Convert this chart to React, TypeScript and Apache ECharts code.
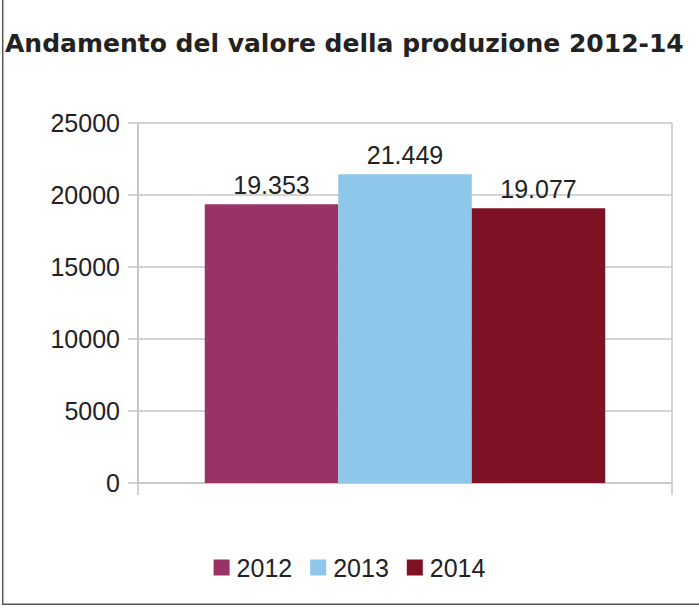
import React, { useEffect, useRef } from "react";
import * as echarts from "echarts";

const titleText = "Andamento del valore della produzione 2012-14";
const seriesNames = ["2012", "2013", "2014"];
const seriesValues = [19353, 21449, 19077];
const seriesColors = ["#993366", "#8FC7EA", "#7E1124"];
const yMin = 0;
const yMax = 25000;
const yInterval = 5000;

function formatIt(v: number): string {
  const s = String(Math.round(v));
  return s.replace(/\B(?=(\d{3})+(?!\d))/g, ".");
}

export default function App() {
  const ref = useRef<HTMLDivElement>(null);
  useEffect(() => {
    document.body.style.margin = "0";
    if (!ref.current) return;
    const chart = echarts.init(ref.current, null, { renderer: "svg" });
    const numFont = "'Liberation Sans', Arial, sans-serif";
    chart.setOption({
      animation: false,
      backgroundColor: "#ffffff",
      title: {
        text: titleText,
        left: 0,
        top: 26,
        textStyle: {
          fontFamily: "'DejaVu Sans', sans-serif",
          fontWeight: "bold",
          fontSize: 25,
          color: "#222222",
        },
      },
      grid: { left: 138, right: 27, top: 123, bottom: 125, containLabel: false },
      legend: {
        data: seriesNames,
        left: "center",
        top: 550,
        icon: "rect",
        itemWidth: 16,
        itemHeight: 16,
        itemGap: 18,
        textStyle: {
          fontFamily: numFont,
          fontSize: 25,
          color: "#222222",
          padding: [0, 0, 0, 2],
        },
      },
      xAxis: {
        type: "category",
        data: [""],
        boundaryGap: true,
        axisLine: { show: true, lineStyle: { color: "#c6c6c6", width: 1.5 } },
        axisTick: { show: true, length: 12, lineStyle: { color: "#c6c6c6", width: 1.5 } },
        axisLabel: { show: false },
        splitLine: { show: true, lineStyle: { color: "#c6c6c6", width: 1.5 } },
      },
      yAxis: {
        type: "value",
        min: yMin,
        max: yMax,
        interval: yInterval,
        axisLine: { show: true, lineStyle: { color: "#c6c6c6", width: 1.5 } },
        axisTick: { show: true, length: 10, lineStyle: { color: "#c6c6c6", width: 1.5 } },
        axisLabel: {
          margin: 18,
          fontFamily: numFont,
          fontSize: 25,
          color: "#222222",
          formatter: (v: number) => String(v),
        },
        splitLine: { show: true, lineStyle: { color: "#c6c6c6", width: 1.5 } },
      },
      series: seriesNames.map((name, i) => ({
        name,
        type: "bar",
        data: [seriesValues[i]],
        barGap: "0%",
        barCategoryGap: "25%",
        itemStyle: { color: seriesColors[i] },
        label: {
          show: true,
          position: "top",
          distance: 7,
          fontFamily: numFont,
          fontSize: 25,
          color: "#222222",
          formatter: (p: any) => formatIt(p.value),
        },
      })),
      graphic: [
        {
          type: "line",
          shape: { x1: 2.7, y1: 0, x2: 2.7, y2: 604.3 },
          style: { stroke: "#555555", lineWidth: 1.5 },
          silent: true,
        },
        {
          type: "line",
          shape: { x1: 2, y1: 604.3, x2: 699, y2: 604.3 },
          style: { stroke: "#555555", lineWidth: 1.5 },
          silent: true,
        },
      ],
    });
    return () => chart.dispose();
  }, []);
  return <div ref={ref} style={{ width: 699, height: 608 }} />;
}
